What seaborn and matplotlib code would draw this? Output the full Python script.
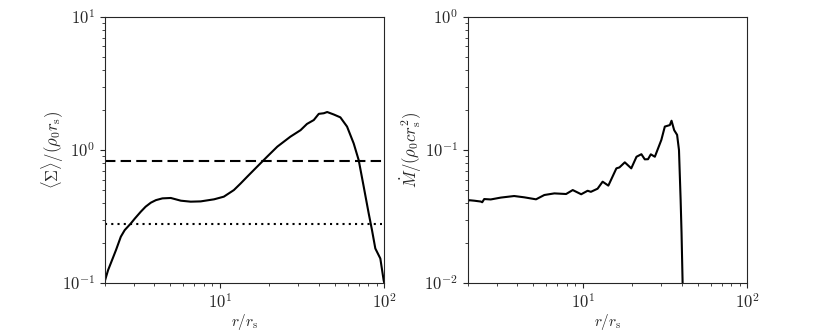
import numpy as np
import pandas as pd
import matplotlib
matplotlib.use('Agg')
import matplotlib.pyplot as plt
from matplotlib.ticker import FuncFormatter
import seaborn as sns

sns.set_style('ticks')
plt.rcParams['font.family'] = ['DejaVu Serif']
plt.rcParams['mathtext.fontset'] = 'cm'
plt.rcParams['font.size'] = 10

# surface density profile (left panel)
r_sigma = [2.0, 2.1, 2.24, 2.35, 2.51, 2.65, 2.89, 3.05, 3.32, 3.55, 3.82, 4.1, 4.49, 5.05,
           5.81, 6.67, 7.67, 9.25, 10.6, 12.2, 13.4, 14.7, 16.9, 19.4, 22.4, 26.9, 31.0,
           33.9, 37.3, 40.0, 42.9, 45.0, 49.3, 54.1, 59.4, 65.2, 69.9, 75.0, 80.4, 84.2,
           88.2, 94.6, 99.1, 100.0]
sigma = [0.102, 0.125, 0.153, 0.178, 0.223, 0.25, 0.281, 0.305, 0.344, 0.375, 0.402, 0.42,
         0.433, 0.436, 0.416, 0.409, 0.411, 0.426, 0.446, 0.50, 0.56, 0.63, 0.75, 0.89,
         1.06, 1.26, 1.41, 1.57, 1.68, 1.87, 1.89, 1.93, 1.85, 1.76, 1.50, 1.12, 0.84,
         0.53, 0.334, 0.25, 0.182, 0.153, 0.105, 0.10]
sigma_dashed = 0.83
sigma_dotted = 0.28
r_ref = [2.0, 97.0]

# accretion rate profile (right panel)
r_mdot = [2.0, 2.02, 2.19, 2.40, 2.45, 2.52, 2.76, 3.18, 3.83, 4.41, 5.2, 5.84, 6.72,
          7.92, 8.69, 9.78, 10.7, 11.2, 12.3, 13.2, 14.3, 16.0, 16.7, 18.0, 19.7,
          21.2, 22.7, 23.8, 24.9, 25.9, 27.4, 30.0, 31.5, 33.8, 34.6, 35.9, 37.4,
          38.4, 39.3, 39.8, 40.4, 40.6]
mdot = [0.0397, 0.042, 0.0416, 0.041, 0.0405, 0.0428, 0.0425, 0.0439, 0.0451, 0.0441,
        0.0426, 0.0459, 0.0472, 0.0467, 0.050, 0.0465, 0.0494, 0.0485, 0.0512, 0.0578,
        0.054, 0.0728, 0.074, 0.0808, 0.0728, 0.089, 0.093, 0.0851, 0.0853, 0.0928,
        0.089, 0.119, 0.150, 0.154, 0.166, 0.141, 0.130, 0.100, 0.042, 0.0238,
        0.010, 0.001]

fig = plt.figure(figsize=(8.3, 3.33), dpi=100)
ax1 = fig.add_axes([0.126, 0.150, 0.337, 0.799])
ax2 = fig.add_axes([0.5635, 0.150, 0.337, 0.799])

df1 = pd.DataFrame({'r': r_sigma, 'sigma': sigma})
sns.lineplot(data=df1, x='r', y='sigma', ax=ax1, color='black', lw=1.5, estimator=None)
sns.lineplot(x=r_ref, y=[sigma_dashed] * 2, ax=ax1, color='black', lw=1.5,
             linestyle=(0, (5, 2.5)), estimator=None)
sns.lineplot(x=r_ref, y=[sigma_dotted] * 2, ax=ax1, color='black', lw=1.5,
             linestyle=(0, (1, 2)), estimator=None)

df2 = pd.DataFrame({'r': r_mdot, 'mdot': mdot})
sns.lineplot(data=df2, x='r', y='mdot', ax=ax2, color='black', lw=1.5, estimator=None)

pow_fmt = FuncFormatter(lambda v, pos: r'$10^{%d}$' % int(round(np.log10(v))))

for ax in (ax1, ax2):
    ax.set_xscale('log')
    ax.set_yscale('log')
    ax.set_xlim(2, 100)
    ax.xaxis.set_major_formatter(pow_fmt)
    ax.yaxis.set_major_formatter(pow_fmt)
    ax.set_xlabel(r'$r/r_{\rm s}$', fontsize=11, labelpad=0)
    ax.tick_params(which='both', direction='out', labelsize=12)

ax1.set_ylim(0.1, 10)
ax2.set_ylim(0.01, 1)
ax1.set_ylabel(r'$\langle\Sigma\rangle/(\rho_0 r_{\rm s})$', fontsize=12, labelpad=-3)
ax2.set_ylabel(r'$\dot{M}/(\rho_0 c r_{\rm s}^2)$', fontsize=12, labelpad=0)

fig.savefig('out.png', dpi=100)
